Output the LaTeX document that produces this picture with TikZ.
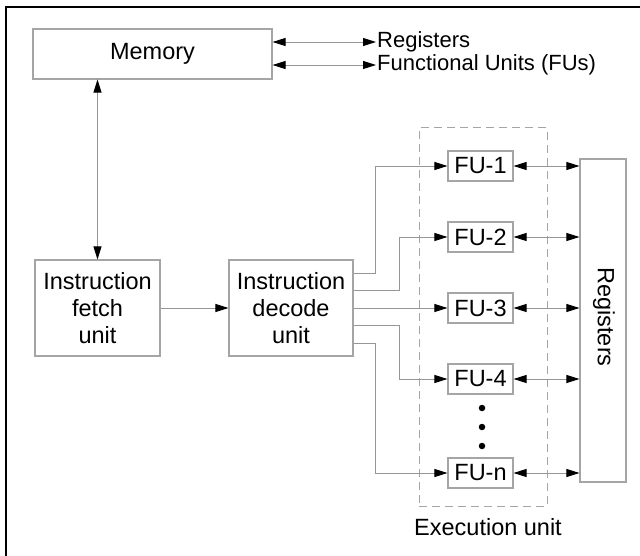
\documentclass[tikz,border=0pt]{standalone}
\usepackage{fontspec}
\setmainfont{Liberation Sans}
\usetikzlibrary{arrows.meta}
\definecolor{boxgray}{RGB}{165,165,165}
\definecolor{linegray}{RGB}{150,150,150}
\begin{document}
\begin{tikzpicture}[x=1pt,y=-1pt,
  box/.style={draw=boxgray, line width=1.1pt, inner sep=0pt, align=center,
    font=\fontsize{23.5}{27}\selectfont},
  fubox/.style={box, minimum width=65pt, minimum height=30pt},
  tipA/.tip={Triangle[length=13pt,width=8pt,color=black]},
  conn/.style={draw=linegray, line width=0.9pt, -tipA},
  bidir/.style={draw=linegray, line width=0.9pt, tipA-tipA},
  lbl/.style={font=\fontsize{22}{26}\selectfont, inner sep=1pt},
  dot/.style={circle, fill=black, inner sep=0pt, minimum size=6.5pt}
]
\useasboundingbox (0,0) rectangle (640,556);
% outer frame (top and left visible)
\draw[black, line width=1.6pt] (6,556) -- (6,7) -- (640,7);

% memory
\node[box, minimum width=239pt, minimum height=50pt] (mem) at (152.5,54) {Memory};
\node[lbl, anchor=west] (lreg) at (376,42) {Registers};
\node[lbl, anchor=west] (lfu) at (376,65) {Functional Units (FUs)};
\draw[bidir] (mem.east |- lreg) -- (lreg.west);
\draw[bidir] (mem.east |- lfu) -- (lfu.west);

% fetch & decode
\node[box, minimum width=125pt, minimum height=96pt] (fetch) at (97.5,308) {Instruction\\fetch\\unit};
\node[box, minimum width=124pt, minimum height=96pt] (dec) at (291,308) {Instruction\\decode\\unit};
\draw[bidir] (fetch.north |- mem.south) -- (fetch.north);
\draw[conn] (fetch) -- (dec);

% execution unit
\node[draw=boxgray, line width=1pt, dash pattern=on 8pt off 5pt,
      minimum width=128pt, minimum height=378pt, inner sep=0pt] (exec) at (483,317) {};
\node[box, draw=none] (execlbl) at (488,527) {Execution unit};

\node[fubox] (fu1) at (480.5,166) {FU-1};
\node[fubox] (fu2) at (480.5,237) {FU-2};
\node[fubox] (fu3) at (480.5,308) {FU-3};
\node[fubox] (fu4) at (480.5,379) {FU-4};
\node[fubox] (fun) at (480.5,473) {FU-n};
\node[dot] (d1) at (482,408) {};
\node[dot] (d2) at (482,427) {};
\node[dot] (d3) at (482,446) {};

% registers
\node[draw=boxgray, line width=1.1pt, minimum width=46pt, minimum height=323pt, inner sep=0pt] (regs) at (603,320.5) {};
\node[box, draw=none, rotate=-90] (regslbl) at (604,317) {Registers};

% decode -> FUs
\draw[conn] ([yshift=35pt]dec.east) -- ++(22,0) |- (fu1.west);
\draw[conn] ([yshift=17.5pt]dec.east) -- ++(46,0) |- (fu2.west);
\draw[conn] (dec.east) -- (fu3.west);
\draw[conn] ([yshift=-17.5pt]dec.east) -- ++(46,0) |- (fu4.west);
\draw[conn] ([yshift=-35pt]dec.east) -- ++(22,0) |- (fun.west);

% FUs <-> registers
\draw[bidir] (fu1.east) -- (fu1.east -| regs.west);
\draw[bidir] (fu2.east) -- (fu2.east -| regs.west);
\draw[bidir] (fu3.east) -- (fu3.east -| regs.west);
\draw[bidir] (fu4.east) -- (fu4.east -| regs.west);
\draw[bidir] (fun.east) -- (fun.east -| regs.west);
\end{tikzpicture}
\end{document}
